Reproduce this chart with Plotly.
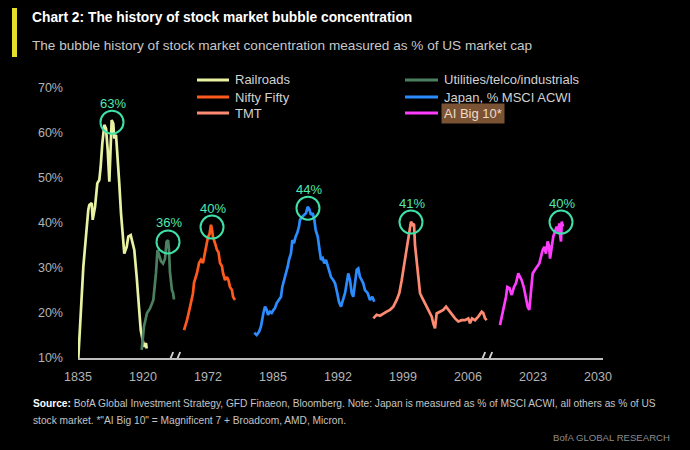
import plotly.graph_objects as go

# ---------------- data ----------------
tick_pos = [0, 1, 2, 3, 4, 5, 6, 7, 8]
tick_text = ["1835", "1920", "1972", "1985", "1992", "1999", "2006", "2023", "2030"]
y_ticks = [10, 20, 30, 40, 50, 60, 70]
y_tick_text = ["10%", "20%", "30%", "40%", "50%", "60%", "70%"]
axis_breaks = [1.48, 6.28]

names = ["Railroads", "Utilities/telco/industrials", "Nifty Fifty",
         "Japan, % MSCI ACWI", "TMT", "AI Big 10*"]
colors = ["#e9f2a2", "#4c7f5f", "#ff5a1e", "#2a8cff", "#ff8a72", "#ff3dff"]

railroads_x = [0.005, 0.082, 0.158, 0.174, 0.211, 0.226, 0.262, 0.297, 0.328, 0.349,
               0.374, 0.405, 0.431, 0.457, 0.482, 0.503, 0.518, 0.543, 0.558, 0.585,
               0.611, 0.635, 0.662, 0.688, 0.712, 0.749, 0.774, 0.811, 0.842, 0.866,
               0.903, 0.934, 0.965, 0.995, 1.015, 1.046, 1.057]
railroads_y = [10, 30.3, 42.9, 44, 44.4, 40.7, 43.6, 48.8, 49.6, 52.5,
               57.7, 61.8, 61, 56.2, 49.2, 57.7, 62.9, 62.1, 58.8, 59.6,
               54.8, 48.8, 42.1, 36.2, 33.2, 34.7, 37, 37.3, 35.5, 34,
               28, 21.4, 16.2, 14, 12.5, 13.3, 12.1]

utilities_x = [0.98, 1.015, 1.062, 1.108, 1.159, 1.185, 1.2, 1.223, 1.246, 1.277,
               1.308, 1.338, 1.362, 1.385, 1.4, 1.415, 1.446, 1.462, 1.477]
utilities_y = [11.8, 17, 20, 21, 22.9, 26, 28.9, 34, 33, 31.5,
               31, 32, 35.8, 36.2, 34, 29, 25, 24.5, 23]

nifty_x = [1.631, 1.677, 1.723, 1.769, 1.785, 1.831, 1.862, 1.892, 1.923, 1.938,
           1.969, 2.0, 2.023, 2.046, 2.062, 2.077, 2.108, 2.138, 2.162, 2.185,
           2.215, 2.231, 2.262, 2.292, 2.315, 2.338, 2.369, 2.385, 2.415]
nifty_y = [16.2, 18.4, 21.3, 24.4, 26.7, 28.9, 31.1, 31.8, 31.1, 32.4,
           34.7, 36.9, 37.5, 39.6, 38.5, 36.9, 35.5, 34, 33.5, 31.1,
           30.4, 28.9, 27.3, 28, 27.3, 25.8, 25.1, 23.6, 22.9]

japan_x = [2.712, 2.749, 2.785, 2.815, 2.851, 2.877, 2.903, 2.923, 2.954, 2.98,
           3.008, 3.031, 3.057, 3.092, 3.123, 3.143, 3.174, 3.2, 3.226, 3.246,
           3.277, 3.297, 3.323, 3.349, 3.374, 3.4, 3.415, 3.451, 3.482, 3.508,
           3.534, 3.558, 3.585, 3.611, 3.636, 3.657, 3.688, 3.712, 3.738, 3.765,
           3.789, 3.815, 3.842, 3.862, 3.892, 3.928, 3.954, 3.989, 4.015, 4.046,
           4.082, 4.108, 4.134, 4.158, 4.185, 4.211, 4.235, 4.262, 4.288, 4.312,
           4.338, 4.365, 4.389, 4.415, 4.457, 4.492, 4.528, 4.558]
japan_y = [15.6, 15.1, 15.8, 17, 19.9, 21.4, 20.7, 19.6, 20.3, 20,
           20.7, 21.1, 22.2, 22.9, 23.6, 25.8, 27.3, 28.9, 30.3, 31.8,
           33.3, 36.2, 35.5, 37, 37.8, 39.2, 40.7, 41.4, 41.8, 42.2,
           43.6, 43.1, 41.8, 42.2, 40.7, 38.4, 37, 34.7, 31.8, 32.2,
           31, 31.8, 30.3, 29.2, 28, 27.3, 26.6, 24.4, 22.5, 21.4,
           22.9, 24.4, 26.6, 28.8, 27.3, 24.4, 23.6, 27.3, 29.6, 29.9,
           28, 27.3, 26.6, 25.1, 24.4, 22.9, 23.6, 22.5]

tmt_x = [4.543, 4.595, 4.646, 4.697, 4.749, 4.8, 4.851, 4.903, 4.943, 4.98,
         5.005, 5.031, 5.057, 5.082, 5.108, 5.123, 5.149, 5.169, 5.185, 5.211,
         5.237, 5.262, 5.288, 5.338, 5.389, 5.442, 5.466, 5.492, 5.518, 5.569,
         5.62, 5.662, 5.697, 5.749, 5.8, 5.851, 5.903, 5.954, 6.005, 6.031,
         6.062, 6.108, 6.158, 6.211, 6.235, 6.262, 6.288]
tmt_y = [18.8, 19.6, 19.4, 19.9, 20.3, 20.7, 21.4, 22.9, 24.4, 27.3,
         29.6, 31.8, 34, 36.2, 38.4, 40.3, 39.6, 39.8, 35.1, 31.8,
         28, 24.4, 23.6, 22.1, 20.7, 19.2, 17.7, 16.6, 19.9, 20.3,
         20.7, 21.4, 20.7, 19.6, 18.8, 18.1, 18.4, 18.4, 18.8, 17.7,
         18.8, 18.4, 19.2, 20.3, 20, 18.8, 18.4]

ai_x = [6.492, 6.543, 6.585, 6.605, 6.638, 6.672, 6.708, 6.738, 6.774, 6.8,
        6.826, 6.862, 6.892, 6.918, 6.943, 6.969, 6.995, 7.031, 7.066, 7.097,
        7.123, 7.149, 7.174, 7.2, 7.225, 7.246, 7.262, 7.288, 7.312, 7.338,
        7.365, 7.385, 7.405, 7.42, 7.431, 7.442, 7.462]
ai_y = [17.3, 20.7, 23.6, 25.8, 25.5, 24, 25.8, 26.6, 28.8, 28,
        27.3, 25.5, 23.6, 21.4, 20.7, 25.1, 28.8, 29.6, 30.3, 31,
        32.5, 34, 34.7, 33.2, 35.9, 35, 32.1, 34.7, 37, 38.1,
        39.2, 38.1, 39.9, 37, 35.9, 40.3, 39.2]

peak_x = [0.523, 1.385, 2.062, 3.538, 5.123, 7.431]
peak_y = [62.4, 35.8, 39.1, 43.3, 40.2, 40.2]
peak_labels = ["63%", "36%", "40%", "44%", "41%", "40%"]

series_x = [railroads_x, utilities_x, nifty_x, japan_x, tmt_x, ai_x]
series_y = [railroads_y, utilities_y, nifty_y, japan_y, tmt_y, ai_y]

# ---------------- layout geometry ----------------
W, H = 690, 450
ML, MR, MT, MB = 78, 87, 88, 92
PW, PH = W - ML - MR, H - MT - MB
FONT = "Liberation Sans, Arial, sans-serif"
GREEN = "#3fe0a8"


def px(x):
    return (x - ML) / PW


def py(y):
    return (H - MB - y) / PH


fig = go.Figure()
for nm, c, xs, ys in zip(names, colors, series_x, series_y):
    fig.add_trace(go.Scatter(x=xs, y=ys, mode="lines", name=nm,
                             line=dict(color=c, width=2.7), showlegend=False))

fig.add_trace(go.Scatter(
    x=peak_x, y=peak_y, mode="markers", cliponaxis=False, showlegend=False,
    marker=dict(symbol="circle-open", size=23, color=GREEN,
                line=dict(color=GREEN, width=2))))

shapes = []
# axis breaks
for b in axis_breaks:
    shapes.append(dict(type="rect", xref="x", yref="y", xsizemode="pixel", ysizemode="pixel",
                       xanchor=b, yanchor=10, x0=-4, x1=3, y0=-3, y1=3,
                       fillcolor="#000000", line=dict(width=0), layer="above"))
    for off in (-6, 1):
        shapes.append(dict(type="line", xref="x", yref="y", xsizemode="pixel", ysizemode="pixel",
                           xanchor=b, yanchor=10, x0=off, x1=off + 5, y0=-6, y1=6,
                           line=dict(color="#d8d8d8", width=1.8), layer="above"))
# yellow title bar
shapes.append(dict(type="rect", xref="paper", yref="paper",
                   x0=px(12), x1=px(17), y0=py(57), y1=py(8),
                   fillcolor="#e6dc2a", line=dict(width=0), layer="above"))

annotations = []
# peak labels
for xv, yv, t in zip(peak_x, peak_y, peak_labels):
    annotations.append(dict(x=xv, y=yv, xref="x", yref="y", text=t, showarrow=False,
                            yshift=19, xshift=1,
                            font=dict(color="#4fe8b2", size=13, family=FONT)))
# legend (manual, 2 columns)
leg_rows = [80, 97, 113]
leg_cols = [(197, 229, 232), (405, 438, 441)]
order = [0, 2, 4, 1, 3, 5]
for k, si in enumerate(order):
    col, row = divmod(k, 3)
    x0, x1, xt = leg_cols[col]
    yy = leg_rows[row]
    shapes.append(dict(type="line", xref="paper", yref="paper",
                       x0=px(x0), x1=px(x1), y0=py(yy), y1=py(yy),
                       line=dict(color=colors[si], width=3)))
    hl = si == 5
    annotations.append(dict(xref="paper", yref="paper", x=px(xt), y=py(yy),
                            xanchor="left", yanchor="middle", showarrow=False,
                            text=names[si],
                            font=dict(color="#f0dcc6" if hl else "#d2d2d2", size=13, family=FONT),
                            bgcolor="#7a5334" if hl else None, borderpad=2))

annotations += [
    dict(xref="paper", yref="paper", x=px(30), y=py(18), xanchor="left", yanchor="middle",
         showarrow=False, text="<b>Chart 2: The history of stock market bubble concentration</b>",
         font=dict(color="#ffffff", size=13.8, family=FONT)),
    dict(xref="paper", yref="paper", x=px(30), y=py(45), xanchor="left", yanchor="middle",
         showarrow=False, text="The bubble history of stock market concentration measured as % of US market cap",
         font=dict(color="#c8c8c8", size=13.6, family=FONT)),
    dict(xref="paper", yref="paper", x=px(31), y=py(403), xanchor="left", yanchor="middle",
         showarrow=False,
         text="<b><span style='color:#ffffff'>Source:</span></b> BofA Global Investment Strategy, GFD Finaeon, Bloomberg. Note: Japan is measured as % of MSCI ACWI, all others as % of US",
         font=dict(color="#c4c4c4", size=10.2, family=FONT)),
    dict(xref="paper", yref="paper", x=px(31), y=py(420), xanchor="left", yanchor="middle",
         showarrow=False,
         text="stock market. *\"AI Big 10\" = Magnificent 7 + Broadcom, AMD, Micron.",
         font=dict(color="#c4c4c4", size=10.2, family=FONT)),
    dict(xref="paper", yref="paper", x=px(672), y=py(437), xanchor="right", yanchor="middle",
         showarrow=False, text="BofA GLOBAL RESEARCH",
         font=dict(color="#8c8c8c", size=9.6, family=FONT)),
]

fig.update_layout(
    width=W, height=H, margin=dict(l=ML, r=MR, t=MT, b=MB),
    paper_bgcolor="#000000", plot_bgcolor="#000000",
    showlegend=False, shapes=shapes, annotations=annotations,
    font=dict(family=FONT, color="#b4b4b4"),
    xaxis=dict(range=[0, 8.077], tickvals=tick_pos, ticktext=tick_text, showgrid=False,
               zeroline=False, showline=True, linecolor="#bdbdbd", linewidth=2,
               ticks="", ticklabelstandoff=6, tickfont=dict(size=12.5, color="#b4b4b4")),
    yaxis=dict(range=[10, 70], tickvals=y_ticks, ticktext=y_tick_text, showgrid=False,
               zeroline=False, showline=False, ticks="", ticklabelstandoff=14,
               tickfont=dict(size=12.5, color="#b4b4b4")),
)

fig.write_html("out.html")
